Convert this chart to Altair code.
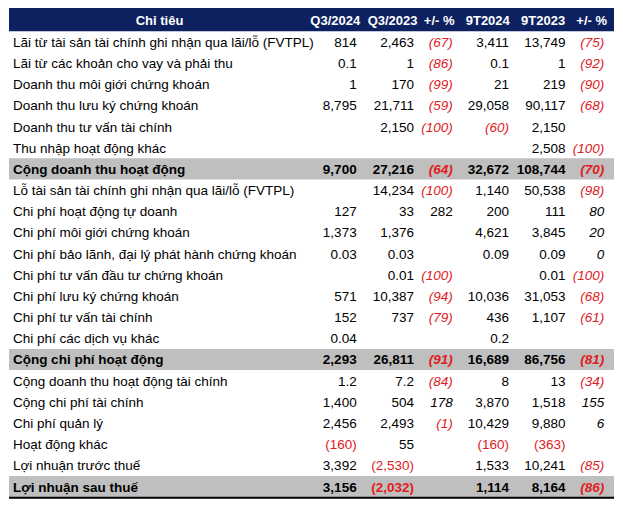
import altair as alt
import pandas as pd

# ---------------- data ----------------
labels = [
    "Lãi từ tài sản tài chính ghi nhận qua lãi/lỗ (FVTPL)",
    "Lãi từ các khoản cho vay và phải thu",
    "Doanh thu môi giới chứng khoán",
    "Doanh thu lưu ký chứng khoán",
    "Doanh thu tư vấn tài chính",
    "Thu nhập hoạt động khác",
    "Cộng doanh thu hoạt động",
    "Lỗ tài sản tài chính ghi nhận qua lãi/lỗ (FVTPL)",
    "Chi phí hoạt động tự doanh",
    "Chi phí môi giới chứng khoán",
    "Chi phí bảo lãnh, đại lý phát hành chứng khoán",
    "Chi phí tư vấn đầu tư chứng khoán",
    "Chi phí lưu ký chứng khoán",
    "Chi phí tư vấn tài chính",
    "Chi phí các dịch vụ khác",
    "Cộng chi phí hoạt động",
    "Cộng doanh thu hoạt động tài chính",
    "Cộng chi phí tài chính",
    "Chi phí quản lý",
    "Hoạt động khác",
    "Lợi nhuận trước thuế",
    "Lợi nhuận sau thuế",
]
headers = ["Q3/2024", "Q3/2023", "+/- %", "9T2024", "9T2023", "+/- %"]
title_header = "Chỉ tiêu"

q3_2024 = [814, 0.1, 1, 8795, None, None, 9700, None, 127, 1373, 0.03, None,
           571, 152, 0.04, 2293, 1.2, 1400, 2456, -160, 3392, 3156]
q3_2023 = [2463, 1, 170, 21711, 2150, None, 27216, 14234, 33, 1376, 0.03, 0.01,
           10387, 737, None, 26811, 7.2, 504, 2493, 55, -2530, -2032]
q3_pct = [-67, -86, -99, -59, -100, None, -64, -100, 282, None, None, -100,
          -94, -79, None, -91, -84, 178, -1, None, None, None]
t9_2024 = [3411, 0.1, 21, 29058, -60, None, 32672, 1140, 200, 4621, 0.09, None,
           10036, 436, 0.2, 16689, 8, 3870, 10429, -160, 1533, 1114]
t9_2023 = [13749, 1, 219, 90117, 2150, 2508, 108744, 50538, 111, 3845, 0.09, 0.01,
           31053, 1107, None, 86756, 13, 1518, 9880, -363, 10241, 8164]
t9_pct = [-75, -92, -90, -68, None, -100, -70, -98, 80, 20, 0, -100,
          -68, -61, None, -81, -34, 155, 6, None, -85, -86]

series = [q3_2024, q3_2023, q3_pct, t9_2024, t9_2023, t9_pct]

# ---------------- layout / style ----------------
total_rows = [6, 15, 21]
pct_cols = [2, 5]
upright_cells = {(8, 2)}
italic_cells = {(4, 3)}
TABLE_W = 623
COL_RIGHT = [358, 417, 457, 515, 573, 613]
HEAD_CX = [336, 395, 443, 493, 550, 600]
LABEL_X = 4
TITLE_CX = 155
HEAD_TOP, HEAD_BOTTOM = -1.6, -0.5
Y_MAX = 21.73
NAVY = "#0d2160"
GREY = "#bfbfbf"
RED = "#e0201e"
BLACK = "#000000"
FONT = "Liberation Sans"
FS = 13.5
FS_HEAD = 13


def fmt(v):
    a = abs(v)
    if a != int(a):
        s = ("%g" % a)
    else:
        s = "{:,.0f}".format(a)
    return "(" + s + ")" if v < 0 else s


cells = []
for ci, col in enumerate(series):
    for ri, v in enumerate(col):
        if v is None:
            continue
        italic = (ci in pct_cols and (ri, ci) not in upright_cells) or (ri, ci) in italic_cells
        bold = ri in total_rows
        cells.append({
            "row": ri, "x": COL_RIGHT[ci], "text": fmt(v),
            "color": RED if v < 0 else BLACK,
            "style": ("B" if bold else "N") + ("I" if italic else "U"),
        })
cells = pd.DataFrame(cells)

lab = pd.DataFrame({
    "row": list(range(len(labels))),
    "x": [LABEL_X] * len(labels),
    "text": labels,
    "bold": [i in total_rows for i in range(len(labels))],
})

head = pd.DataFrame({
    "row": [(HEAD_TOP + HEAD_BOTTOM) / 2] * (len(headers) + 1),
    "x": [TITLE_CX] + HEAD_CX,
    "text": [title_header] + headers,
})

bands = pd.DataFrame({
    "x0": [0] * (len(total_rows) + 1),
    "x1": [TABLE_W] * (len(total_rows) + 1),
    "y0": [HEAD_TOP] + [r - 0.5 for r in total_rows],
    "y1": [HEAD_BOTTOM] + [r + 0.5 for r in total_rows],
    "fill": [NAVY] + [GREY] * len(total_rows),
})

xs = alt.Scale(domain=[0, TABLE_W], nice=False, zero=False)
ys = alt.Scale(domain=[HEAD_TOP, Y_MAX], reverse=True, nice=False, zero=False)

band_layer = alt.Chart(bands).mark_rect().encode(
    x=alt.X("x0:Q", scale=xs, axis=None),
    x2="x1:Q",
    y=alt.Y("y0:Q", scale=ys, axis=None),
    y2="y1:Q",
    color=alt.Color("fill:N", scale=None),
)

line_df = pd.DataFrame({"x0": [0], "x1": [TABLE_W], "y": [21.53]})
bottom_line = alt.Chart(line_df).mark_rule(color="#000000", strokeWidth=2).encode(
    x=alt.X("x0:Q", scale=xs, axis=None),
    x2="x1:Q",
    y=alt.Y("y:Q", scale=ys, axis=None),
)

head_text = alt.Chart(head).mark_text(
    font=FONT, fontSize=FS_HEAD, fontWeight="bold", color="white",
    align="center", baseline="middle", dy=1,
).encode(
    x=alt.X("x:Q", scale=xs, axis=None),
    y=alt.Y("row:Q", scale=ys, axis=None),
    text="text:N",
)


def label_layer(bold):
    return alt.Chart(lab).transform_filter(
        alt.datum.bold == bold
    ).mark_text(
        font=FONT, fontSize=FS, fontWeight="bold" if bold else "normal",
        color="#000000", align="left", baseline="middle", dy=1,
    ).encode(
        x=alt.X("x:Q", scale=xs, axis=None),
        y=alt.Y("row:Q", scale=ys, axis=None),
        text="text:N",
    )


def cell_layer(style):
    return alt.Chart(cells).transform_filter(
        alt.datum.style == style
    ).mark_text(
        font=FONT, fontSize=FS,
        fontWeight="bold" if style[0] == "B" else "normal",
        fontStyle="italic" if style[1] == "I" else "normal",
        align="right", baseline="middle", dy=1,
    ).encode(
        x=alt.X("x:Q", scale=xs, axis=None),
        y=alt.Y("row:Q", scale=ys, axis=None),
        text="text:N",
        color=alt.Color("color:N", scale=None),
    )


chart = alt.layer(
    band_layer, bottom_line, head_text,
    label_layer(False), label_layer(True),
    cell_layer("NU"), cell_layer("NI"), cell_layer("BU"), cell_layer("BI"),
).properties(
    width=607, height=494,
    autosize=alt.AutoSizeParams(type="fit", contains="padding"),
    padding=0,
    background="white",
).configure_view(stroke=None)

chart.save("out.html", embed_options={"renderer": "svg", "actions": False})
